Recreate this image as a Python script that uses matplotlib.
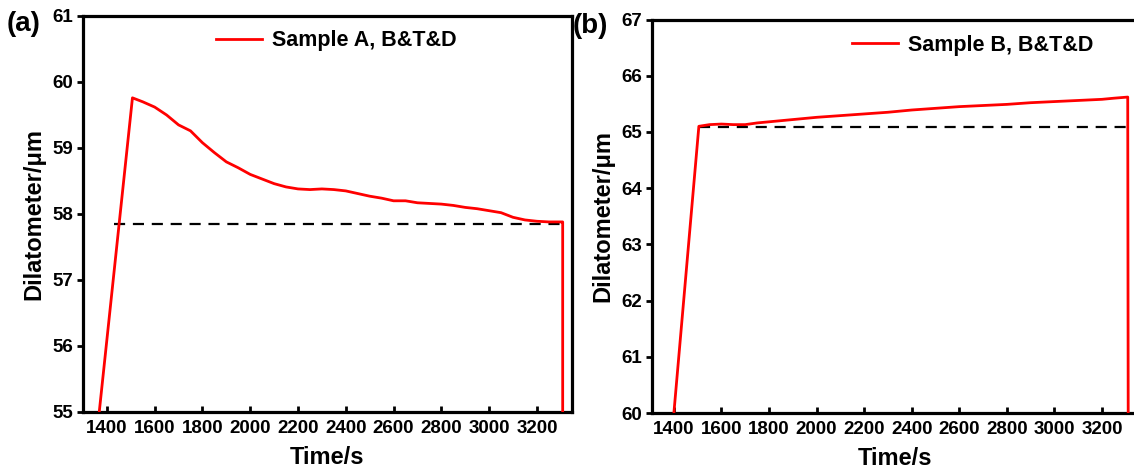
import matplotlib
matplotlib.use("Agg")
import matplotlib.pyplot as plt

plt.rcParams['font.family'] = ['Liberation Sans', 'DejaVu Sans']
plt.rcParams['font.weight'] = 'bold'

# ---- data ----
time_a = [1368, 1507, 1550, 1600, 1650, 1700, 1750, 1800, 1850, 1900, 1950, 2000,
          2050, 2100, 2150, 2200, 2250, 2300, 2350, 2400, 2450, 2500, 2550, 2600,
          2650, 2700, 2750, 2800, 2850, 2900, 2950, 3000, 3050, 3100, 3150, 3200,
          3250, 3300, 3308, 3308]
dil_a = [55.0, 59.76, 59.70, 59.62, 59.50, 59.35, 59.26, 59.08, 58.93, 58.79, 58.70, 58.60,
         58.53, 58.46, 58.41, 58.38, 58.37, 58.38, 58.37, 58.35, 58.31, 58.27, 58.24, 58.20,
         58.20, 58.17, 58.16, 58.15, 58.13, 58.10, 58.08, 58.05, 58.02, 57.95, 57.91, 57.89,
         57.88, 57.88, 57.88, 55.0]
ref_a = 57.85
ref_a_span = [1430, 3305]

time_b = [1400, 1505, 1550, 1600, 1650, 1700, 1750, 1800, 1900, 2000, 2100, 2200,
          2300, 2400, 2500, 2600, 2700, 2800, 2900, 3000, 3100, 3200, 3250, 3308, 3310]
dil_b = [60.0, 65.10, 65.13, 65.14, 65.13, 65.13, 65.16, 65.18, 65.22, 65.26, 65.29, 65.32,
         65.35, 65.39, 65.42, 65.45, 65.47, 65.49, 65.52, 65.54, 65.56, 65.58, 65.60, 65.62, 60.0]
ref_b = 65.09
ref_b_span = [1505, 3305]

xticks = [1400, 1600, 1800, 2000, 2200, 2400, 2600, 2800, 3000, 3200]
yticks_a = [55, 56, 57, 58, 59, 60, 61]
yticks_b = [60, 61, 62, 63, 64, 65, 66, 67]

W, H = 1134, 471
fig = plt.figure(figsize=(W / 100, H / 100), dpi=100)

def px_axes(l, t, r, b):
    return fig.add_axes([l / W, 1 - b / H, (r - l) / W, (b - t) / H])

ax_a = px_axes(83, 16, 572, 412)
ax_b = px_axes(652, 19.5, 1137, 413)

panels = [
    (ax_a, time_a, dil_a, ref_a, ref_a_span, yticks_a, (1300, 3347), 'Sample A, B&T&D', (0.273, 0.938), '(a)', (7, 24)),
    (ax_b, time_b, dil_b, ref_b, ref_b_span, yticks_b, (1308, 3347), 'Sample B, B&T&D', (0.413, 0.934), '(b)', (573, 26)),
]

for ax, t, d, ref, span, yt, xl, lab, lpos, tag, tagpos in panels:
    ax.plot(t, d, color='#ff0000', lw=2.0, label=lab, zorder=3)
    ax.plot(span, [ref, ref], color='black', lw=1.6, ls=(0, (5, 3.5)), zorder=2)
    ax.set_xlim(*xl)
    ax.set_ylim(yt[0], yt[-1])
    ax.set_xticks(xticks)
    ax.set_yticks(yt)
    for s in ax.spines.values():
        s.set_linewidth(2.3)
    ax.tick_params(axis='x', direction='in', length=4, width=2, pad=6, labelsize=13.5)
    ax.tick_params(axis='y', direction='out', length=4, width=2, pad=3, labelsize=13.5)
    for lb in ax.get_xticklabels() + ax.get_yticklabels():
        lb.set_fontweight('bold')
    ax.set_xlabel('Time/s', fontsize=17, fontweight='bold', labelpad=6)
    ax.set_ylabel('Dilatometer/μm', fontsize=17, fontweight='bold', labelpad=5)
    leg = ax.legend(loc='center left', bbox_to_anchor=lpos, frameon=False,
                    fontsize=15.5, handlelength=2.1, handletextpad=0.5,
                    borderpad=0, borderaxespad=0)
    for tx in leg.get_texts():
        tx.set_fontweight('bold')
    fig.text(tagpos[0] / W, 1 - tagpos[1] / H, tag, fontsize=20, fontweight='bold',
             ha='left', va='center')

fig.savefig('out.png', dpi=100)
